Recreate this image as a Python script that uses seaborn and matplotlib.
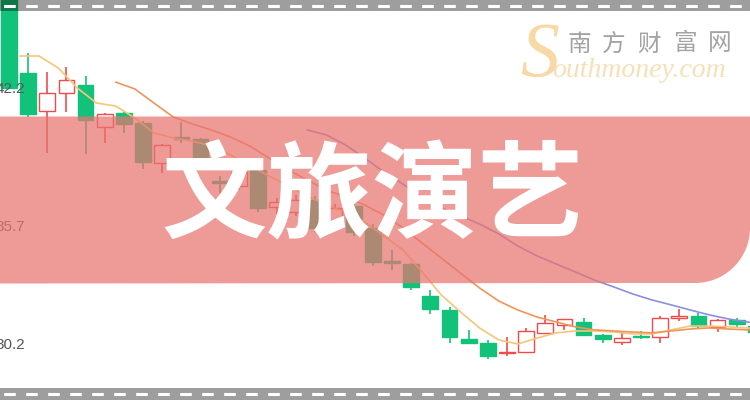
import numpy as np
import pandas as pd
import seaborn as sns
import matplotlib.pyplot as plt
from matplotlib.patches import Rectangle, PathPatch
from matplotlib.path import Path
from matplotlib.transforms import Affine2D

# daily candles, leftmost one is cut by the frame
opens = [46.97, 42.84, 41.09, 41.93, 42.29, 40.32, 40.97, 40.53, 38.66, 39.84,
         39.77, 37.80, 37.57, 38.32, 36.59, 36.35, 36.92, 35.98, 36.64, 35.61,
         34.06, 33.92, 32.44, 31.77, 30.40, 30.24, 29.75, 29.79, 30.68, 31.05,
         31.22, 30.60, 30.29, 30.56, 30.50, 31.38, 31.49, 30.96, 31.30, 31.02]
highs = [47.20, 43.78, 42.92, 43.12, 42.71, 40.98, 41.05, 40.61, 39.53, 40.58,
         39.82, 38.04, 38.41, 38.46, 37.01, 37.15, 37.10, 36.73, 36.92, 35.79,
         34.58, 33.97, 32.71, 31.90, 30.84, 30.37, 30.52, 30.92, 31.54, 31.37,
         31.41, 30.65, 30.73, 30.79, 31.49, 31.80, 31.65, 31.33, 31.41, 31.16]
lows = [42.11, 40.80, 39.13, 41.05, 39.07, 39.57, 40.06, 38.35, 38.19, 39.60,
        38.55, 37.24, 37.38, 36.35, 36.26, 36.17, 35.42, 35.79, 35.23, 33.83,
        33.64, 32.71, 31.59, 30.21, 30.21, 29.48, 29.62, 29.76, 30.65, 30.84,
        30.56, 30.21, 30.14, 30.40, 30.21, 31.27, 30.92, 30.76, 30.92, 30.65]
closes = [42.15, 40.94, 41.93, 42.53, 40.66, 40.94, 40.47, 38.71, 39.47, 39.77,
          38.79, 37.71, 38.23, 36.54, 36.82, 36.92, 35.61, 36.54, 35.42, 34.02,
          33.99, 32.83, 31.82, 30.50, 30.24, 29.62, 29.81, 30.80, 31.18, 31.34,
          30.60, 30.40, 30.48, 30.50, 31.41, 31.49, 31.02, 31.30, 31.10, 30.76]

# moving average lines as drawn (MA5 from candle 0, MA10 from 5, MA20 from 15)
ma5 = [43.65, 43.65, 43.09, 42.15, 41.45, 41.31, 40.75, 40.05, 39.82, 39.67,
       39.44, 39.02, 38.51, 38.04, 37.57, 37.10, 36.68, 36.35, 35.89, 35.23,
       34.58, 33.55, 32.47, 31.68, 30.93, 30.37, 30.18, 30.46, 30.70, 30.79,
       30.79, 30.74, 30.65, 30.65, 30.84, 31.02, 31.02, 30.98, 30.93, 30.88]
ma10 = [42.43, 42.11, 41.45, 40.80, 40.47, 40.19, 39.86, 39.44, 38.88, 38.32,
        37.85, 37.38, 37.06, 36.68, 36.21, 35.61, 34.90, 34.20, 33.50, 32.80,
        32.19, 31.77, 31.44, 31.21, 30.98, 30.84, 30.79, 30.74, 30.70, 30.79,
        30.88, 30.93, 30.88, 30.84, 30.84]
ma20 = [40.19, 39.96, 39.49, 38.88, 38.23, 37.66, 37.06, 36.54, 36.17, 35.79,
        35.33, 34.76, 34.30, 33.92, 33.55, 33.17, 32.85, 32.52, 32.24, 32.01,
        31.77, 31.54, 31.35, 31.21, 31.07]
ma_starts = {'MA5': 0, 'MA10': 5, 'MA20': 15}
MA_SHIFT = 0.57

y_ticks = [42.2, 35.7, 30.2]
y_labels = ['42.2', '35.7', '30.2']

title = '文旅演艺'
brand_cn = '南方财富网'
brand_en = 'outhmoney.com'

GREEN = '#12c27a'
RED = '#ef4b4b'

sns.set_theme(style='white')
plt.rcParams['font.family'] = ['Liberation Sans', 'Noto Sans CJK SC', 'DejaVu Sans']

W, H = 750, 400
fig = plt.figure(figsize=(7.5, 4), dpi=100)
ax = fig.add_axes([0, 0, 1, 1])

# candles
df = pd.DataFrame({'open': opens, 'high': highs, 'low': lows, 'close': closes})
df['x'] = np.arange(len(df))
df['up'] = df['close'] >= df['open']
for _, r in df.iterrows():
    col = RED if r['up'] else GREEN
    ax.vlines(r['x'], r['low'], r['high'], color=col, lw=1.2, zorder=2)
    ax.bar(r['x'], r['close'] - r['open'], bottom=r['open'], width=0.82,
           color='white' if r['up'] else GREEN, edgecolor=col, lw=1.0, zorder=3)

# moving averages
parts = []
for name, vals in [('MA5', ma5), ('MA10', ma10), ('MA20', ma20)]:
    start = ma_starts[name]
    parts.append(pd.DataFrame({'x': np.arange(start, start + len(vals)) + MA_SHIFT,
                               'price': vals, 'line': name}))
ma = pd.concat(parts, ignore_index=True)
sns.lineplot(data=ma, x='x', y='price', hue='line', estimator=None, sort=False,
             palette={'MA5': '#f7c57a', 'MA10': '#f0955a', 'MA20': '#8b8fe0'},
             lw=1.2, legend=False, ax=ax, zorder=4)

ax.set_xlim(-0.47, 38.69)
ax.set_ylim(27.56, 46.27)
ax.set_xlabel('')
ax.set_ylabel('')
ax.set_xticks([])
ax.set_yticks(y_ticks, y_labels)
ax.tick_params(axis='y', length=0, pad=-18, labelsize=11, labelcolor='#555555')
ax.yaxis.set_zorder(4.5)
for s in ax.spines.values():
    s.set_visible(False)

# pixel coords with origin top-left, for the decoration on top of the chart
pix = Affine2D().scale(1 / W, -1 / H).translate(0, 1) + fig.transFigure

# red banner with rounded bottom-right corner
cx, cy, rad = 695, 228, 55
t = np.linspace(0, np.pi / 2, 40)
arc = [(cx + rad * np.cos(a), cy + rad * np.sin(a)) for a in t]
verts = [(0, 116.5), (750, 116.5)] + arc + [(0, 283.5), (0, 116.5)]
codes = [Path.MOVETO] + [Path.LINETO] * (len(verts) - 2) + [Path.CLOSEPOLY]
ax.add_patch(PathPatch(Path(verts, codes), facecolor='#e8746f', alpha=0.72, lw=0,
                       transform=pix, zorder=5, clip_on=False))

ax.text(372, 199, title, transform=pix, ha='center', va='center', fontsize=76,
        color='white', fontweight='black', family=['Noto Sans CJK SC'], zorder=6)

# watermark
ax.text(540, 57, 'S', transform=pix, ha='center', va='center', fontsize=56,
        style='italic', family=['Liberation Serif'], color='#f8d8a4', zorder=6)
ax.text(552, 77, brand_en, transform=pix, ha='left', va='baseline', fontsize=20,
        style='italic', family=['Liberation Serif'], color='#f9dfb8', zorder=6)
for i, ch in enumerate(brand_cn):
    ax.text(579 + 35.2 * i, 44, ch, transform=pix, ha='center', va='center',
            fontsize=17, fontweight='light', color='#a3a3a3',
            family=['Noto Sans CJK SC'], zorder=6)

# gray dashed strips at top and bottom
for y0, h, yd in [(0, 10.5, 5.5), (387.5, 12.5, 394)]:
    ax.add_patch(Rectangle((0, y0), W, h, facecolor='black', alpha=0.38, lw=0,
                           transform=pix, zorder=7, clip_on=False))
    ax.plot([0, W], [yd, yd], transform=pix, color='white', lw=2.2,
            linestyle=(6, (3.8, 3.4)), zorder=8, clip_on=False)

fig.savefig('out.png', dpi=100)
